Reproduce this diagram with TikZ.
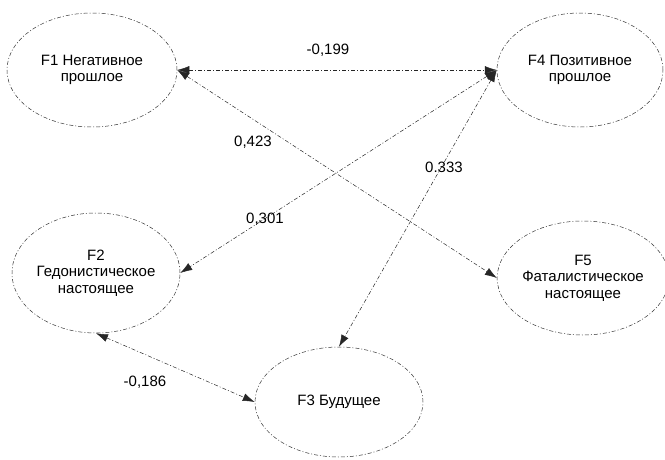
\documentclass[tikz,border=0pt]{standalone}
\usepackage{fontspec}
\setmainfont{Liberation Sans}
\usetikzlibrary{shapes.geometric,arrows.meta}

\tikzset{
  factor/.style={draw=black!80, line width=0.5pt, ellipse, inner sep=0pt,
    dash pattern=on 4pt off 2pt on 1pt off 2pt, align=center},
  corr/.style={draw=black!85, line width=0.5pt, <->,
    dash pattern=on 4pt off 2pt on 1pt off 2pt,
    >={Latex[length=12pt,width=8pt]}}
}

\begin{document}
\begin{tikzpicture}[x=1pt, y=-1pt, every node/.style={font=\fontsize{15}{16.5}\selectfont}]
  \useasboundingbox (0,0) rectangle (665,459);
  % factors
  \node[factor, minimum width=170pt, minimum height=114pt] (F1) at (92,70) {F1 Негативное\\прошлое};
  \node[factor, minimum width=166pt, minimum height=114pt] (F4) at (580,70) {F4 Позитивное\\прошлое};
  \node[factor, minimum width=168pt, minimum height=120pt] (F2) at (96,273) {F2\\Гедонистическое\\настоящее};
  \node[factor, minimum width=162pt, minimum height=114pt] (F5) at (583,278) {F5\\Фаталистическое\\настоящее};
  \node[factor, minimum width=168pt, minimum height=110pt] (F3) at (339,402) {F3 Будущее};
  % correlations
  \draw[corr] (F1.east) -- (F4.west);
  \draw[corr] (F1.east) -- (F5.west);
  \draw[corr] (F4.west) -- (F2.east);
  \draw[corr] (F4.west) -- (F3.north);
  \draw[corr] (F2.south) -- (F3.west);
  % coefficients
  \node (k14) at (328,50) {-0,199};
  \node (k15) at (253,142) {0,423};
  \node (k24) at (265,219) {0,301};
  \node (k34) at (444,167) {0.333};
  \node (k23) at (145,382) {-0,186};
\end{tikzpicture}
\end{document}
